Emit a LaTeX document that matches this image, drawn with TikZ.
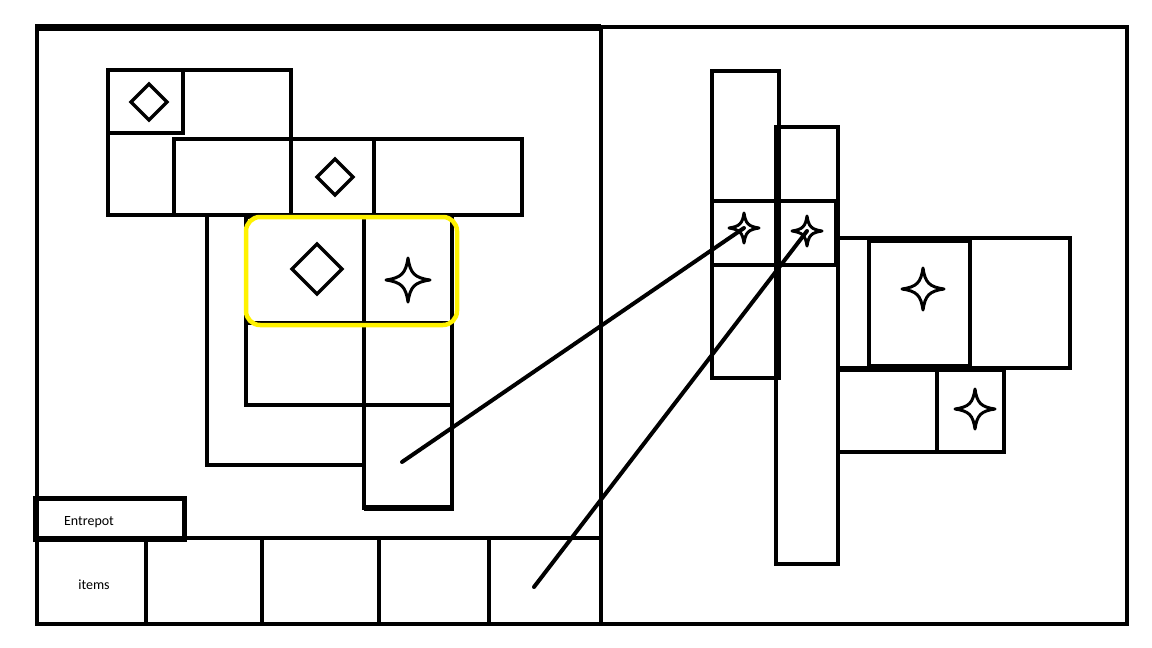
\documentclass[tikz,border=0pt]{standalone}
\usepackage{fontspec}
\setmainfont{Carlito}
\usetikzlibrary{calc}

\definecolor{hlyellow}{RGB}{255,242,0}

\tikzset{
  box/.style={draw, line width=4pt},
  hilite/.style={draw=hlyellow, line width=4.5pt, rounded corners=14pt},
  link/.style={line width=4pt, line cap=round},
  pics/gem/.style={code={
    \draw[line width=3.2pt, line join=miter] (0,-#1) -- (#1,0) -- (0,#1) -- (-#1,0) -- cycle;}},
  pics/sparkle/.style={code={
    \draw[line width=3pt, line join=round]
      (0,-#1) .. controls ({0.1*#1},{-0.3*#1}) and ({0.3*#1},{-0.1*#1}) .. (#1,0)
      .. controls ({0.3*#1},{0.1*#1}) and ({0.1*#1},{0.3*#1}) .. (0,#1)
      .. controls ({-0.1*#1},{0.3*#1}) and ({-0.3*#1},{0.1*#1}) .. (-#1,0)
      .. controls ({-0.3*#1},{-0.1*#1}) and ({-0.1*#1},{-0.3*#1}) .. (0,-#1) -- cycle;}}
}

\begin{document}
\begin{tikzpicture}[x=1pt, y=-1pt]
\useasboundingbox (0,0) rectangle (1152,648);
% Outer frame and the split between the two halves
\draw[box] (37,27) rectangle (1127,624);
\draw[line width=7pt] (35,27) -- (601,27);
\draw[box] (601,27) -- (601,624);
% Bottom strip of item boxes
\draw[box] (37,538) -- (601,538);
\foreach \xx in {146,262,379,489} {
  \draw[box] (\xx,538) -- (\xx,623);
}
\draw[box, line width=5pt] (35,498) rectangle (184,539);
\node[font=\fontsize{14}{16}\selectfont] (entrepot) at (89,522) {Entrepot};
\node[font=\fontsize{14}{16}\selectfont] (items) at (94,585) {items};
% Left half: upper blocks
\draw[box] (108,70) rectangle (291,215);
\draw[box] (108,70) rectangle (183,133);
\draw[box] (174,139) rectangle (522,215);
\draw[box] (291,139) -- (291,215);
\draw[box] (374,139) -- (374,215);
\pic at (149,102) {gem=18};
\pic at (335,177) {gem=18};
% Left half: lower blocks
\draw[box] (207,215) rectangle (364,465);
\draw[box] (246,217) rectangle (452,405);
\draw[box] (246,323) -- (452,323);
\draw[box] (364,217) -- (364,508);
\draw[box] (364,405) rectangle (452,508);
\draw[line width=6pt] (364,508) -- (454,508);
\pic at (317,269) {gem=25};
\pic at (408,280) {sparkle=22};
% Highlighted pair
\draw[hilite] (246,217) rectangle (457,325);
% Right half: two columns
\draw[box] (712,71) rectangle (779,378);
\draw[box] (776,127) rectangle (838,564);
\draw[box] (712,201) rectangle (836,265);
% Right half: blocks to the right
\draw[box] (838,238) rectangle (1070,368);
\draw[box] (869,241) rectangle (970,366);
\draw[box] (838,370) rectangle (1004,452);
\draw[box] (937,370) -- (937,452);
% Stars and the points they are linked to
\coordinate (slotA) at (744,228);
\coordinate (slotB) at (807,231);
\coordinate (srcA) at (402,462);
\coordinate (srcB) at (534,587);
\pic at (slotA) {sparkle=15};
\pic at (slotB) {sparkle=15};
\pic at (923,289) {sparkle=21};
\pic at (975,409) {sparkle=20};
% Links
\draw[link] (srcA) -- (slotA);
\draw[link] (srcB) -- (slotB);
\end{tikzpicture}
\end{document}
